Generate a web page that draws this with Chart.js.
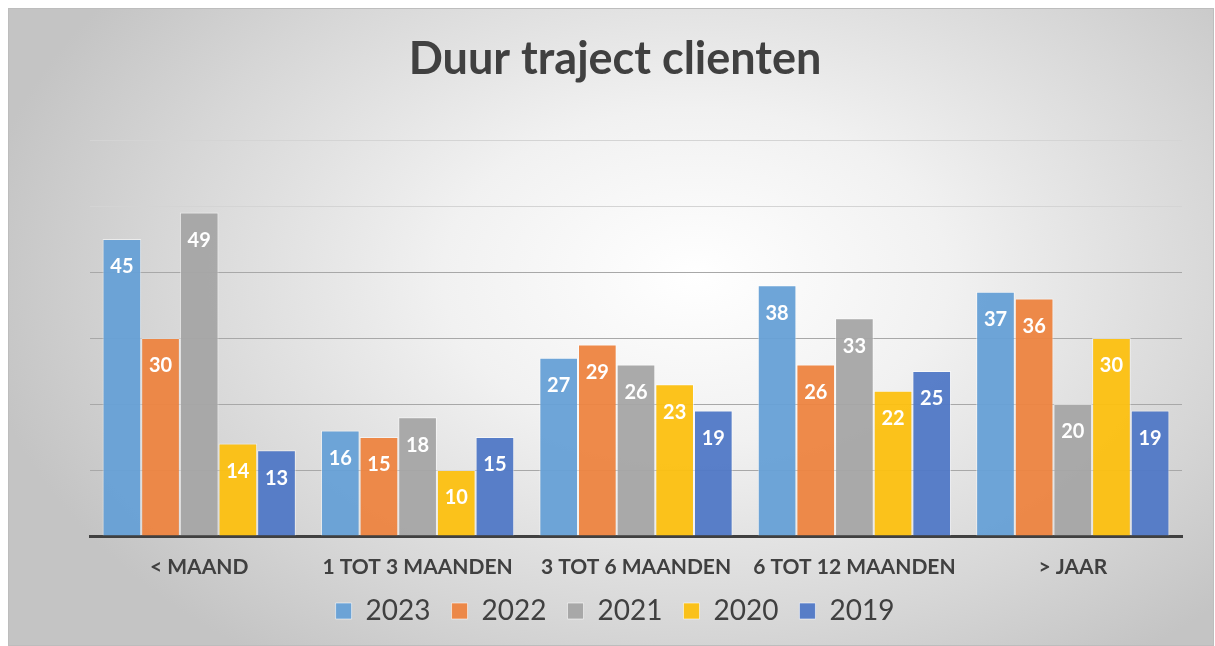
<!DOCTYPE html>
<html>
<head>
<meta charset="utf-8">
<script src="https://cdn.jsdelivr.net/npm/chart.js@4.4.1/dist/chart.umd.min.js"></script>
<style>
  body { margin: 0; background: #fff; }
  #kader {
    position: absolute; left: 8px; top: 8px; width: 1204px; height: 636px;
    border: 1px solid #bdbdbd;
    background: radial-gradient(ellipse 60% 75% at 57% 42%, #ffffff 0%, #f1f1f1 35%, #d6d6d6 75%, #c4c4c4 100%);
  }
  #grafiek { position: absolute; left: 0; top: 0; }
</style>
</head>
<body>
<div id="kader"></div>
<canvas id="grafiek" width="1215" height="646"></canvas>
<script>
// categorieën en reeksen
const categorieen = ['< MAAND', '1 TOT 3 MAANDEN', '3 TOT 6 MAANDEN', '6 TOT 12 MAANDEN', '> JAAR'];
const jaren = ['2023', '2022', '2021', '2020', '2019'];
const waarden2023 = [45, 16, 27, 38, 37];
const waarden2022 = [30, 15, 29, 26, 36];
const waarden2021 = [49, 18, 26, 33, 20];
const waarden2020 = [14, 10, 23, 22, 30];
const waarden2019 = [13, 15, 19, 25, 19];
const kleuren = ['rgba(102,160,214,0.95)', 'rgba(237,132,64,0.95)', 'rgba(165,165,165,0.95)', 'rgba(252,192,16,0.95)', 'rgba(80,120,198,0.95)'];

const alleWaarden = [waarden2023, waarden2022, waarden2021, waarden2020, waarden2019];

// witte waarden in de balken
const waardeLabels = {
    id: 'waardeLabels',
    afterDatasetsDraw(chart) {
        const ctx = chart.ctx;
        ctx.save();
        ctx.fillStyle = '#ffffff';
        ctx.font = 'bold 20px Lato';
        ctx.textAlign = 'center';
        ctx.textBaseline = 'middle';
        chart.data.datasets.forEach(function(ds, i) {
            const meta = chart.getDatasetMeta(i);
            meta.data.forEach(function(bar, j) {
                ctx.fillText(ds.data[j], bar.x, bar.y + 28);
            });
        });
        ctx.restore();
    }
};

const ctx = document.getElementById('grafiek');
new Chart(ctx, {
    type: 'bar',
    data: {
        labels: categorieen,
        datasets: jaren.map(function(jaar, i) {
            return {
                label: jaar,
                data: alleWaarden[i],
                backgroundColor: kleuren[i],
                borderColor: 'rgba(255,255,255,0.55)',
                borderWidth: 1,
                categoryPercentage: 0.885,
                barPercentage: 1
            };
        })
    },
    options: {
        responsive: false,
        animation: false,
        layout: { padding: { left: 48, right: 33, top: 8, bottom: 11 } },
        plugins: {
            title: {
                display: true,
                text: 'Duur traject clienten',
                color: '#404040',
                font: { family: 'Lato', size: 45, weight: 'bold' },
                padding: { top: 24, bottom: 54 }
            },
            legend: {
                position: 'bottom',
                labels: {
                    color: '#404040',
                    font: { family: 'Lato', size: 28 },
                    boxWidth: 16,
                    boxHeight: 16,
                    padding: 21
                }
            },
            tooltip: { enabled: false }
        },
        scales: {
            x: {
                grid: { display: false, drawTicks: false },
                border: { display: true, color: '#404040', width: 3 },
                ticks: {
                    color: '#404040',
                    font: { family: 'Lato', size: 21, weight: 'bold' },
                    padding: 19
                },
                afterFit: function(scale) { scale.height = 40; }
            },
            y: {
                min: 0,
                max: 60,
                ticks: { display: false, stepSize: 10 },
                border: { display: false },
                grid: {
                    drawTicks: false,
                    color: function(c) {
                        return c.tick.value >= 50 ? '#d4d4d4' : '#a8a8a8';
                    }
                },
                afterFit: function(scale) { scale.width = 42; }
            }
        }
    },
    plugins: [waardeLabels]
});
</script>
</body>
</html>
